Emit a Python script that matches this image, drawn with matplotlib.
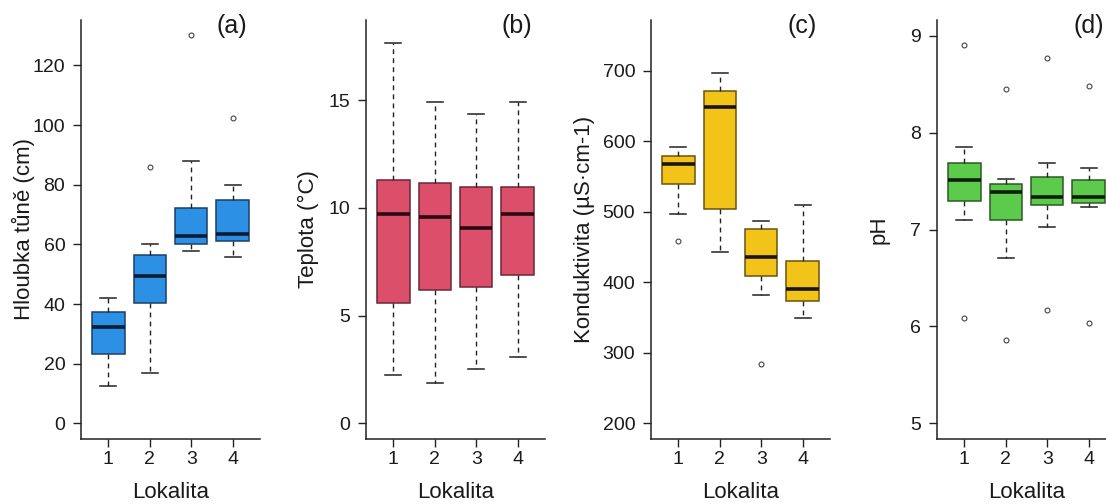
import matplotlib
matplotlib.use("Agg")
import matplotlib.pyplot as plt

plt.rcParams['font.family'] = ['Liberation Sans', 'DejaVu Sans']

lokality = [1, 2, 3, 4]

# (a) hloubka tune (cm): dolni vous, Q1, median, Q3, horni vous
hloubka_lo = [12.7, 17.0, 57.9, 55.7]
hloubka_q1 = [23.3, 40.4, 60.0, 61.1]
hloubka_med = [32.4, 49.4, 62.9, 63.5]
hloubka_q3 = [37.2, 56.4, 72.3, 74.9]
hloubka_hi = [41.9, 60.0, 88.0, 80.0]
hloubka_out = [[], [86.0], [130.3], [102.2]]

# (b) teplota (°C)
teplota_lo = [2.27, 1.88, 2.52, 3.09]
teplota_q1 = [5.60, 6.19, 6.34, 6.87]
teplota_med = [9.70, 9.59, 9.09, 9.70]
teplota_q3 = [11.28, 11.18, 10.98, 10.98]
teplota_hi = [17.63, 14.92, 14.34, 14.92]
teplota_out = [[], [], [], []]

# (c) konduktivita
kond_lo = [496.6, 443.8, 382.6, 349.2]
kond_q1 = [539.0, 503.7, 409.5, 374.2]
kond_med = [567.2, 648.2, 436.3, 390.7]
kond_q3 = [578.5, 671.8, 475.4, 429.7]
kond_hi = [592.0, 697.2, 487.1, 510.2]
kond_out = [[458.9], [], [284.7], []]

# (d) pH
ph_lo = [7.10, 6.71, 7.03, 7.23]
ph_q1 = [7.29, 7.10, 7.25, 7.27]
ph_med = [7.51, 7.39, 7.34, 7.33]
ph_q3 = [7.69, 7.47, 7.54, 7.51]
ph_hi = [7.85, 7.52, 7.69, 7.63]
ph_out = [[8.90, 6.09], [8.45, 5.86], [8.77, 6.17], [8.48, 6.04]]

panely = [
    ("(a)", "Hloubka tůně (cm)", (0, 130), [0, 20, 40, 60, 80, 100, 120],
     hloubka_lo, hloubka_q1, hloubka_med, hloubka_q3, hloubka_hi, hloubka_out,
     "#2C91E4", "#1C3F66", "#0B1C33"),
    ("(b)", "Teplota (°C)", (0, 18), [0, 5, 10, 15],
     teplota_lo, teplota_q1, teplota_med, teplota_q3, teplota_hi, teplota_out,
     "#DB4F6B", "#6B2735", "#2A0A10"),
    ("(c)", "Konduktivita (µS·cm-1)", (200, 750), [200, 300, 400, 500, 600, 700],
     kond_lo, kond_q1, kond_med, kond_q3, kond_hi, kond_out,
     "#F2C318", "#6B5410", "#1A1405"),
    ("(d)", "pH", (5, 9), [5, 6, 7, 8, 9],
     ph_lo, ph_q1, ph_med, ph_q3, ph_hi, ph_out,
     "#5CCB4C", "#2B5A25", "#0F1F0C"),
]

fig = plt.figure(figsize=(11.06, 5.04), dpi=100)

left_px = [81, 366, 651, 937]
ylabel_x = [-0.324, -0.324, -0.37, -0.324]  # (c) ma popisek dal od osy
for i, p in enumerate(panely):
    znacka, ylabel, ylim, yticks, lo, q1, med, q3, hi, out, fill, edge, medc = p
    ax = fig.add_axes([left_px[i] / 1106, 65 / 504, 179 / 1106, 419 / 504])

    stats = []
    for k in range(len(lokality)):
        stats.append({"whislo": lo[k], "q1": q1[k], "med": med[k],
                      "q3": q3[k], "whishi": hi[k], "fliers": out[k]})

    ax.bxp(stats, positions=lokality, widths=0.78, capwidths=0.39,
           patch_artist=True, manage_ticks=False,
           boxprops=dict(facecolor=fill, edgecolor=edge, linewidth=1.1),
           medianprops=dict(color=medc, linewidth=2.6, solid_capstyle="butt"),
           whiskerprops=dict(color="#222222", linewidth=1.0,
                             linestyle=(0, (3.5, 3))),
           capprops=dict(color="#222222", linewidth=1.1),
           flierprops=dict(marker="o", markersize=3.5, markerfacecolor="none",
                           markeredgecolor="#444444", markeredgewidth=0.8))

    pad = 0.04 * (ylim[1] - ylim[0])
    ax.set_ylim(ylim[0] - pad, ylim[1] + pad)
    ax.set_xlim(0.34, 4.66)
    ax.set_xticks(lokality)
    ax.set_xticklabels([str(x) for x in lokality])
    ax.set_yticks(yticks)

    for s in ["top", "right"]:
        ax.spines[s].set_visible(False)
    for s in ["left", "bottom"]:
        ax.spines[s].set_linewidth(1.1)
        ax.spines[s].set_color("#222222")
    ax.tick_params(axis="both", length=5.8, width=1.0, color="#222222",
                   labelsize=14, labelcolor="#1a1a1a")
    ax.tick_params(axis="x", pad=3)
    ax.tick_params(axis="y", pad=5.5)

    ax.text(ylabel_x[i], 0.5, ylabel, transform=ax.transAxes, rotation=90,
            ha="center", va="center", fontsize=16, color="#1a1a1a")
    ax.text(0.5, -0.142, "Lokalita", transform=ax.transAxes,
            ha="center", va="baseline", fontsize=16, color="#1a1a1a")
    ax.text(0.845, 0.985, znacka, transform=ax.transAxes,
            ha="center", va="center", fontsize=18, color="#1a1a1a")

fig.savefig("out.png", dpi=100)
